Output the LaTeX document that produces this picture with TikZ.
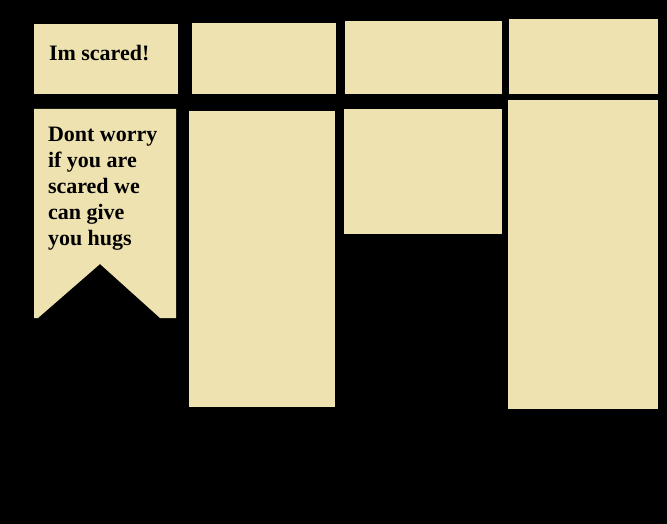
\documentclass[tikz,border=0pt]{standalone}
\usepackage{fontspec}
\setmainfont{Liberation Serif}
\definecolor{cardfill}{RGB}{238,227,176}
\tikzset{
  card/.style={fill=cardfill, draw=none, inner sep=0pt, outer sep=0pt, anchor=north west},
  cardtext/.style={anchor=base west, inner sep=0pt, outer sep=0pt, align=left, text=black,
    font=\bfseries\fontsize{22}{26}\selectfont}
}
\begin{document}
\begin{tikzpicture}[x=1pt,y=-1pt]
\fill[black] (0,0) rectangle (667,524);
\useasboundingbox (0,0) rectangle (667,524);
% top row
\node[card, minimum width=144pt, minimum height=70pt] (a) at (34,24) {};
\node[card, minimum width=144pt, minimum height=71pt] (b) at (192,23) {};
\node[card, minimum width=157pt, minimum height=73pt] (c) at (345,21) {};
\node[card, minimum width=149pt, minimum height=75pt] (d) at (509,19) {};
% second row
\fill[cardfill] (34,109) -- (176,109) -- (176,318) -- (160,318) -- (100,264) -- (38,318) -- (34,318) -- cycle;
\node[card, minimum width=146pt, minimum height=296pt] (f) at (189,111) {};
\node[card, minimum width=158pt, minimum height=125pt] (g) at (344,109) {};
\node[card, minimum width=150pt, minimum height=309pt] (h) at (508,100) {};
% texts
\node[cardtext] (atext) at (49,61) {Im scared!};
\node[cardtext] (etext) at (48,142) {\begin{tabular}[t]{@{}l@{}}Dont worry\\if you are\\scared we\\can give\\you hugs\end{tabular}};
\end{tikzpicture}
\end{document}
